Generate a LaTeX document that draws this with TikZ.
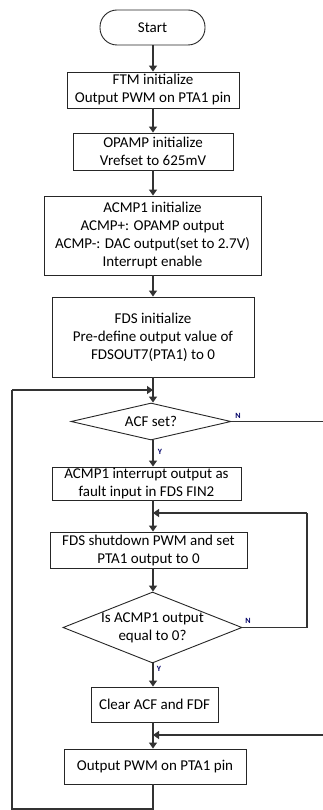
\documentclass[tikz,border=0pt]{standalone}
\usepackage{fontspec}
\setmainfont{Carlito}
\usetikzlibrary{arrows.meta,shapes.geometric,calc}
\begin{document}
\begin{tikzpicture}[x=1pt,y=-1pt,
  font=\fontsize{15}{18}\selectfont,
  box/.style={draw=black!85,line width=0.9pt,fill=white,align=center,inner sep=1pt},
  arr/.style={draw=black!80,line width=1.3pt,-{Triangle[length=6pt,width=8pt]}},
  ln/.style={draw=black!80,line width=1.3pt},
  lab/.style={font=\fontsize{8}{9}\selectfont\bfseries,text=blue!40!black,inner sep=0pt}]
\useasboundingbox (0,0) rectangle (322,810);
\coordinate (spine) at (153,0);
\node[box,rounded corners=17pt,minimum width=105pt,minimum height=35pt] (start) at (152.5,27.5) {Start};
\node[box,minimum width=172pt,minimum height=36pt] (ftm) at (153,90) {FTM initialize\\Output PWM on PTA1 pin};
\node[box,minimum width=160pt,minimum height=37pt] (opamp) at (153,151.5) {OPAMP initialize\\Vrefset to 625mV};
\node[box,minimum width=217pt,minimum height=79pt] (acmp) at (152.5,235.5) {ACMP1 initialize\\ACMP+: OPAMP output\\ACMP-: DAC output(set to 2.7V)\\Interrupt enable};
\node[box,minimum width=202pt,minimum height=80pt] (fds) at (153,337) {FDS initialize\\Pre-define output value of\\FDSOUT7(PTA1) to 0};
\node[draw=black!85,line width=0.9pt,fill=white,inner sep=0pt,
  shape=diamond,aspect=4.3,minimum width=160pt,minimum height=37pt] (acf) at (151,421.5) {};
\node (acft) at (acf) {ACF set?};
\node[box,minimum width=189pt,minimum height=33pt] (int) at (146.5,483.5) {ACMP1 interrupt output as\\fault input in FDS FIN2};
\node[box,minimum width=197pt,minimum height=36pt] (shut) at (148.5,550) {FDS shutdown PWM and set\\PTA1 output to 0};
\node[draw=black!85,line width=0.9pt,fill=white,inner sep=0pt,
  shape=diamond,aspect=2.5,minimum width=179pt,minimum height=71pt] (eq) at (152.5,627.5) {};
\node[align=center] (eqt) at (eq) {Is ACMP1 output\\equal to 0?};
\node[box,minimum width=127pt,minimum height=35pt] (clear) at (154.5,704.5) {Clear ACF and FDF};
\node[box,minimum width=182pt,minimum height=35pt] (out) at (155,766.5) {Output PWM on PTA1 pin};

\coordinate (j1) at (153,390);
\coordinate (j2) at (153,513);
\coordinate (j3) at (153,735);
\coordinate (bl) at (12,809);
\coordinate (tl) at (12,390);
\coordinate (br) at (153,809);
\coordinate (nr1) at (324,421.5);
\coordinate (nr2) at (324,735);
\coordinate (er1) at (307,627.5);
\coordinate (er2) at (307,513);

\draw[arr] (start.south -| spine) -- (ftm.north -| spine);
\draw[arr] (ftm.south -| spine) -- (opamp.north -| spine);
\draw[arr] (opamp.south -| spine) -- (acmp.north -| spine);
\draw[arr] (acmp.south -| spine) -- (fds.north -| spine);
\draw[arr] (fds.south -| spine) -- (acf.north -| spine);
\draw[arr] (acf.south -| spine) -- (int.north -| spine);
\draw[arr] (int.south -| spine) -- (shut.north -| spine);
\draw[arr] (shut.south -| spine) -- (eq.north -| spine);
\draw[arr] (eq.south -| spine) -- (clear.north -| spine);
\draw[arr] (clear.south -| spine) -- (out.north -| spine);
\draw[ln] (out.south -| spine) -- (br) -- (bl) -- (tl);
\draw[arr] (tl) -- (j1);
\draw[ln] (acf.east) -- (nr1) -- (nr2);
\draw[arr] (nr2) -- (j3);
\draw[ln] (eq.east) -- (er1) -- (er2);
\draw[arr] (er2) -- (j2);

\node[lab] (n1) at (238,416) {N};
\node[lab] (y1) at (160,452) {Y};
\node[lab] (n2) at (248,621) {N};
\node[lab] (y2) at (159,669) {Y};
\end{tikzpicture}
\end{document}
